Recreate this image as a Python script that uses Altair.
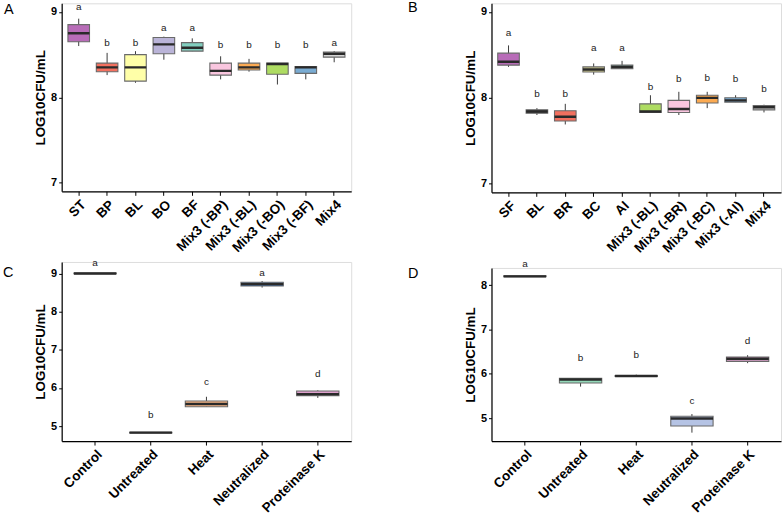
import altair as alt
import pandas as pd

FONT = "Liberation Sans"

# ---------------- Panel A ----------------
a_cats = ["ST", "BP", "BL", "BO", "BF", "Mix3 (-BP)", "Mix3 (-BL)", "Mix3 (-BO)", "Mix3 (-BF)", "Mix4"]
a_min = [8.60, 8.26, 8.17, 8.44, 8.54, 8.21, 8.30, 8.15, 8.21, 8.41]
a_q1 = [8.65, 8.30, 8.19, 8.51, 8.54, 8.26, 8.32, 8.27, 8.28, 8.47]
a_med = [8.75, 8.35, 8.35, 8.62, 8.58, 8.31, 8.35, 8.39, 8.35, 8.51]
a_q3 = [8.85, 8.40, 8.50, 8.70, 8.64, 8.40, 8.40, 8.40, 8.36, 8.53]
a_max = [8.92, 8.52, 8.54, 8.71, 8.69, 8.48, 8.45, 8.40, 8.36, 8.54]
a_let = ["a", "b", "b", "a", "a", "b", "b", "b", "b", "a"]
a_ly = [9.06, 8.63, 8.63, 8.81, 8.81, 8.61, 8.61, 8.61, 8.61, 8.63]
a_col = ["#B86CB8", "#F3705F", "#FFFFA8", "#BAB4D8", "#82CFBF", "#F9C6DF", "#FBAA52", "#AEDC62", "#79ABD2", "#D6D6D6"]

# ---------------- Panel B ----------------
b_cats = ["SF", "BL", "BR", "BC", "AI", "Mix3 (-BL)", "Mix3 (-BR)", "Mix3 (-BC)", "Mix3 (-AI)", "Mix4"]
b_min = [8.36, 7.80, 7.69, 8.27, 8.34, 7.83, 7.80, 7.88, 7.95, 7.83]
b_q1 = [8.38, 7.82, 7.73, 8.30, 8.34, 7.83, 7.83, 7.94, 7.95, 7.86]
b_med = [8.42, 7.84, 7.78, 8.33, 8.36, 7.84, 7.87, 8.00, 7.97, 7.89]
b_q3 = [8.52, 7.86, 7.85, 8.36, 8.38, 7.93, 7.97, 8.03, 8.00, 7.91]
b_max = [8.61, 7.88, 7.93, 8.40, 8.43, 8.03, 8.07, 8.07, 8.03, 7.92]
b_let = ["a", "b", "b", "a", "a", "b", "b", "b", "b", "b"]
b_ly = [8.75, 8.04, 8.04, 8.58, 8.58, 8.13, 8.22, 8.23, 8.22, 8.10]
b_col = ["#B86CB8", "#5A5A5A", "#F3705F", "#D2CE8E", "#82CFBF", "#AEDC62", "#F9C6DF", "#FBAA52", "#79ABD2", "#D6D6D6"]

# ---------------- Panel C ----------------
c_cats = ["Control", "Untreated", "Heat", "Neutralized", "Proteinase K"]
c_min = [8.99, 4.82, 5.51, 8.63, 5.74]
c_q1 = [8.99, 4.82, 5.51, 8.67, 5.80]
c_med = [9.00, 4.83, 5.58, 8.72, 5.84]
c_q3 = [9.01, 4.84, 5.66, 8.77, 5.92]
c_max = [9.01, 4.84, 5.77, 8.80, 5.94]
c_let = ["a", "b", "c", "a", "d"]
c_ly = [9.26, 5.30, 6.16, 9.02, 6.37]
c_col = ["#7FC97F", "#BEAED4", "#FDBA8A", "#386CB0", "#DDA0CC"]

# ---------------- Panel D ----------------
d_cats = ["Control", "Untreated", "Heat", "Neutralized", "Proteinase K"]
d_min = [8.19, 5.71, 5.93, 4.67, 6.24]
d_q1 = [8.19, 5.79, 5.94, 4.82, 6.28]
d_med = [8.20, 5.87, 5.95, 4.99, 6.34]
d_q3 = [8.21, 5.90, 5.96, 5.04, 6.38]
d_max = [8.21, 5.90, 5.98, 5.09, 6.42]
d_let = ["a", "b", "b", "c", "d"]
d_ly = [8.47, 6.36, 6.42, 5.38, 6.75]
d_col = ["#7FC97F", "#93D8B8", "#FDC086", "#B5C3E4", "#DDA0CC"]


def panel(letter, cats, mn, q1, med, q3, mx, lets, ly, cols, domain, ticks, w, h, lx, lyy):
    df = pd.DataFrame({"cat": cats, "mn": mn, "q1": q1, "med": med, "q3": q3,
                       "mx": mx, "let": lets, "ly": ly, "col": cols})
    base = alt.Chart(df)
    xenc = alt.X("cat:N", sort=cats,
                 scale=alt.Scale(paddingInner=0.24, paddingOuter=0.22),
                 axis=alt.Axis(title=None, labelAngle=-45, labelFontSize=13.5,
                               labelFontWeight="bold", labelFont=FONT, labelColor="black",
                               tickSize=4, tickColor="black", domainColor="black",
                               domainWidth=1.2, labelPadding=2))
    ysc = alt.Scale(domain=domain, nice=False, zero=False)
    yax = alt.Axis(title="LOG10CFU/mL", titleFontSize=13.5, titleFontWeight="bold",
                   titleFont=FONT, titleColor="black", titlePadding=3,
                   values=ticks, format="d", labelFontSize=11, labelFontWeight="bold",
                   labelFont=FONT, labelColor="black", tickSize=3, tickColor="black",
                   domainColor="black", domainWidth=1.2, labelPadding=2, grid=False)
    whisk = base.mark_rule(color="#3a3a3a", strokeWidth=1).encode(
        x=xenc, y=alt.Y("mn:Q", scale=ysc, axis=yax), y2="mx:Q")
    box = base.mark_bar(stroke="#6a6a6a", strokeWidth=1.1).encode(
        x=xenc, y=alt.Y("q1:Q", scale=ysc), y2="q3:Q",
        color=alt.Color("col:N", scale=None, legend=None))
    medl = base.mark_bar(stroke="#2a2a2a", strokeWidth=2.4, fillOpacity=0).encode(
        x=xenc, y=alt.Y("med:Q", scale=ysc), y2="med:Q")
    txt = base.mark_text(fontSize=10, font=FONT, color="#222222").encode(
        x=xenc, y=alt.Y("ly:Q", scale=ysc), text="let:N")
    tag = alt.Chart(pd.DataFrame({"lab": [letter]})).mark_text(
        align="left", baseline="alphabetic", fontSize=14.5, font=FONT, color="black"
    ).encode(x=alt.value(lx), y=alt.value(lyy), text="lab:N")
    return alt.layer(whisk, box, medl, txt, tag).properties(width=w, height=h)


pA = panel("A", a_cats, a_min, a_q1, a_med, a_q3, a_max, a_let, a_ly, a_col,
           [6.9, 9.1], [7, 8, 9], 291, 189, -58, 11)
pB = panel("B", b_cats, b_min, b_q1, b_med, b_q3, b_max, b_let, b_ly, b_col,
           [6.9, 9.1], [7, 8, 9], 291, 190, -84, 9)
pC = panel("C", c_cats, c_min, c_q1, c_med, c_q3, c_max, c_let, c_ly, c_col,
           [4.61, 9.30], [5, 6, 7, 8, 9], 291, 180, -59, 15)
pD = panel("D", d_cats, d_min, d_q1, d_med, d_q3, d_max, d_let, d_ly, d_col,
           [4.48, 8.39], [5, 6, 7, 8], 291, 174, -84, 10)

chart = alt.concat(pA, pB, pC, pD, columns=2, align="none",
                   spacing={"row": 2, "column": 55}).properties(
    padding={"left": 2, "top": -2, "right": 2, "bottom": 0}
).configure_view(stroke=None).configure(background="white")

chart.save("out.html", embed_options={"renderer": "svg", "actions": False})
